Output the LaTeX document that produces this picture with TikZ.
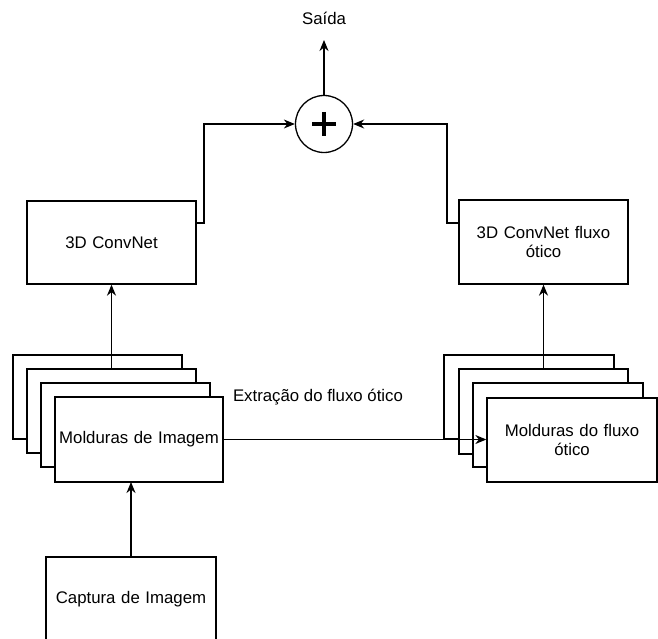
\documentclass[tikz,border=0pt]{standalone}
\usepackage{fontspec}
\setmainfont{Liberation Sans}
\usetikzlibrary{arrows.meta}
\begin{document}
\begin{tikzpicture}[x=1pt,y=-1pt,
  font=\fontsize{16.8}{20}\selectfont,
  box/.style={draw=black,line width=1.3pt,fill=white,minimum width=169pt,inner sep=0pt,align=center,text width=160pt},
  conn/.style={draw=black,line width=1.3pt,-{Stealth[length=11pt,width=9pt,inset=3.5pt]}},
  plain/.style={draw=black,line width=1.3pt}]
\useasboundingbox (0,0) rectangle (658,639);
% top
\node[circle,draw=black,line width=1.3pt,minimum size=57pt,inner sep=0pt] (sum) at (324,124) {};
\draw[line width=3.6pt] (312,124) -- (336,124) (324,112) -- (324,136);
\node (out) at (324,18) {Saída};
% convnets
\node[box,minimum height=83pt] (convL) at (111.5,242.5) {3D ConvNet};
\node[box,minimum height=84pt] (convR) at (543.5,242) {3D ConvNet fluxo\\[-1pt]ótico};
% left stack
\node[box,minimum height=84pt] (L1) at (97.5,397) {};
\node[box,minimum height=84pt] (L2) at (111.5,411) {};
\node[box,minimum height=84pt] (L3) at (125.5,425) {};
\node[box,minimum height=85pt,minimum width=168pt] (L4) at (139,439.5) {Molduras de Imagem};
% right stack
\node[box,minimum height=84pt,minimum width=170pt] (R1) at (529,397) {};
\node[box,minimum height=85pt] (R2) at (543.5,411.5) {};
\node[box,minimum height=84pt,minimum width=170pt] (R3) at (558,425) {};
\node[box,minimum height=84pt,minimum width=170pt] (R4) at (572,440) {Molduras do fluxo\\[-1pt]ótico};
% capture
\node[box,minimum height=84pt,minimum width=170pt] (cap) at (131,599) {Captura de Imagem};
\node (lbl) at (318,397) {Extração do fluxo ótico};
% connectors
\coordinate (top) at (324,40);
\draw[conn] (sum.north) -- (top);
\draw[conn] (cap.north -| 131,0) -- (131,482);
\draw[conn] (L2.north) -- (convL.south);
\draw[conn] (R2.north) -- (convR.south);
\draw[conn] (L4.east) -- (L4.east -| R4.west);
\draw[conn] (196,223) -- (204,223) -- (204,124) -- (sum.west);
\draw[conn] (459,223) -- (447,223) -- (447,124) -- (sum.east);
\end{tikzpicture}
\end{document}
